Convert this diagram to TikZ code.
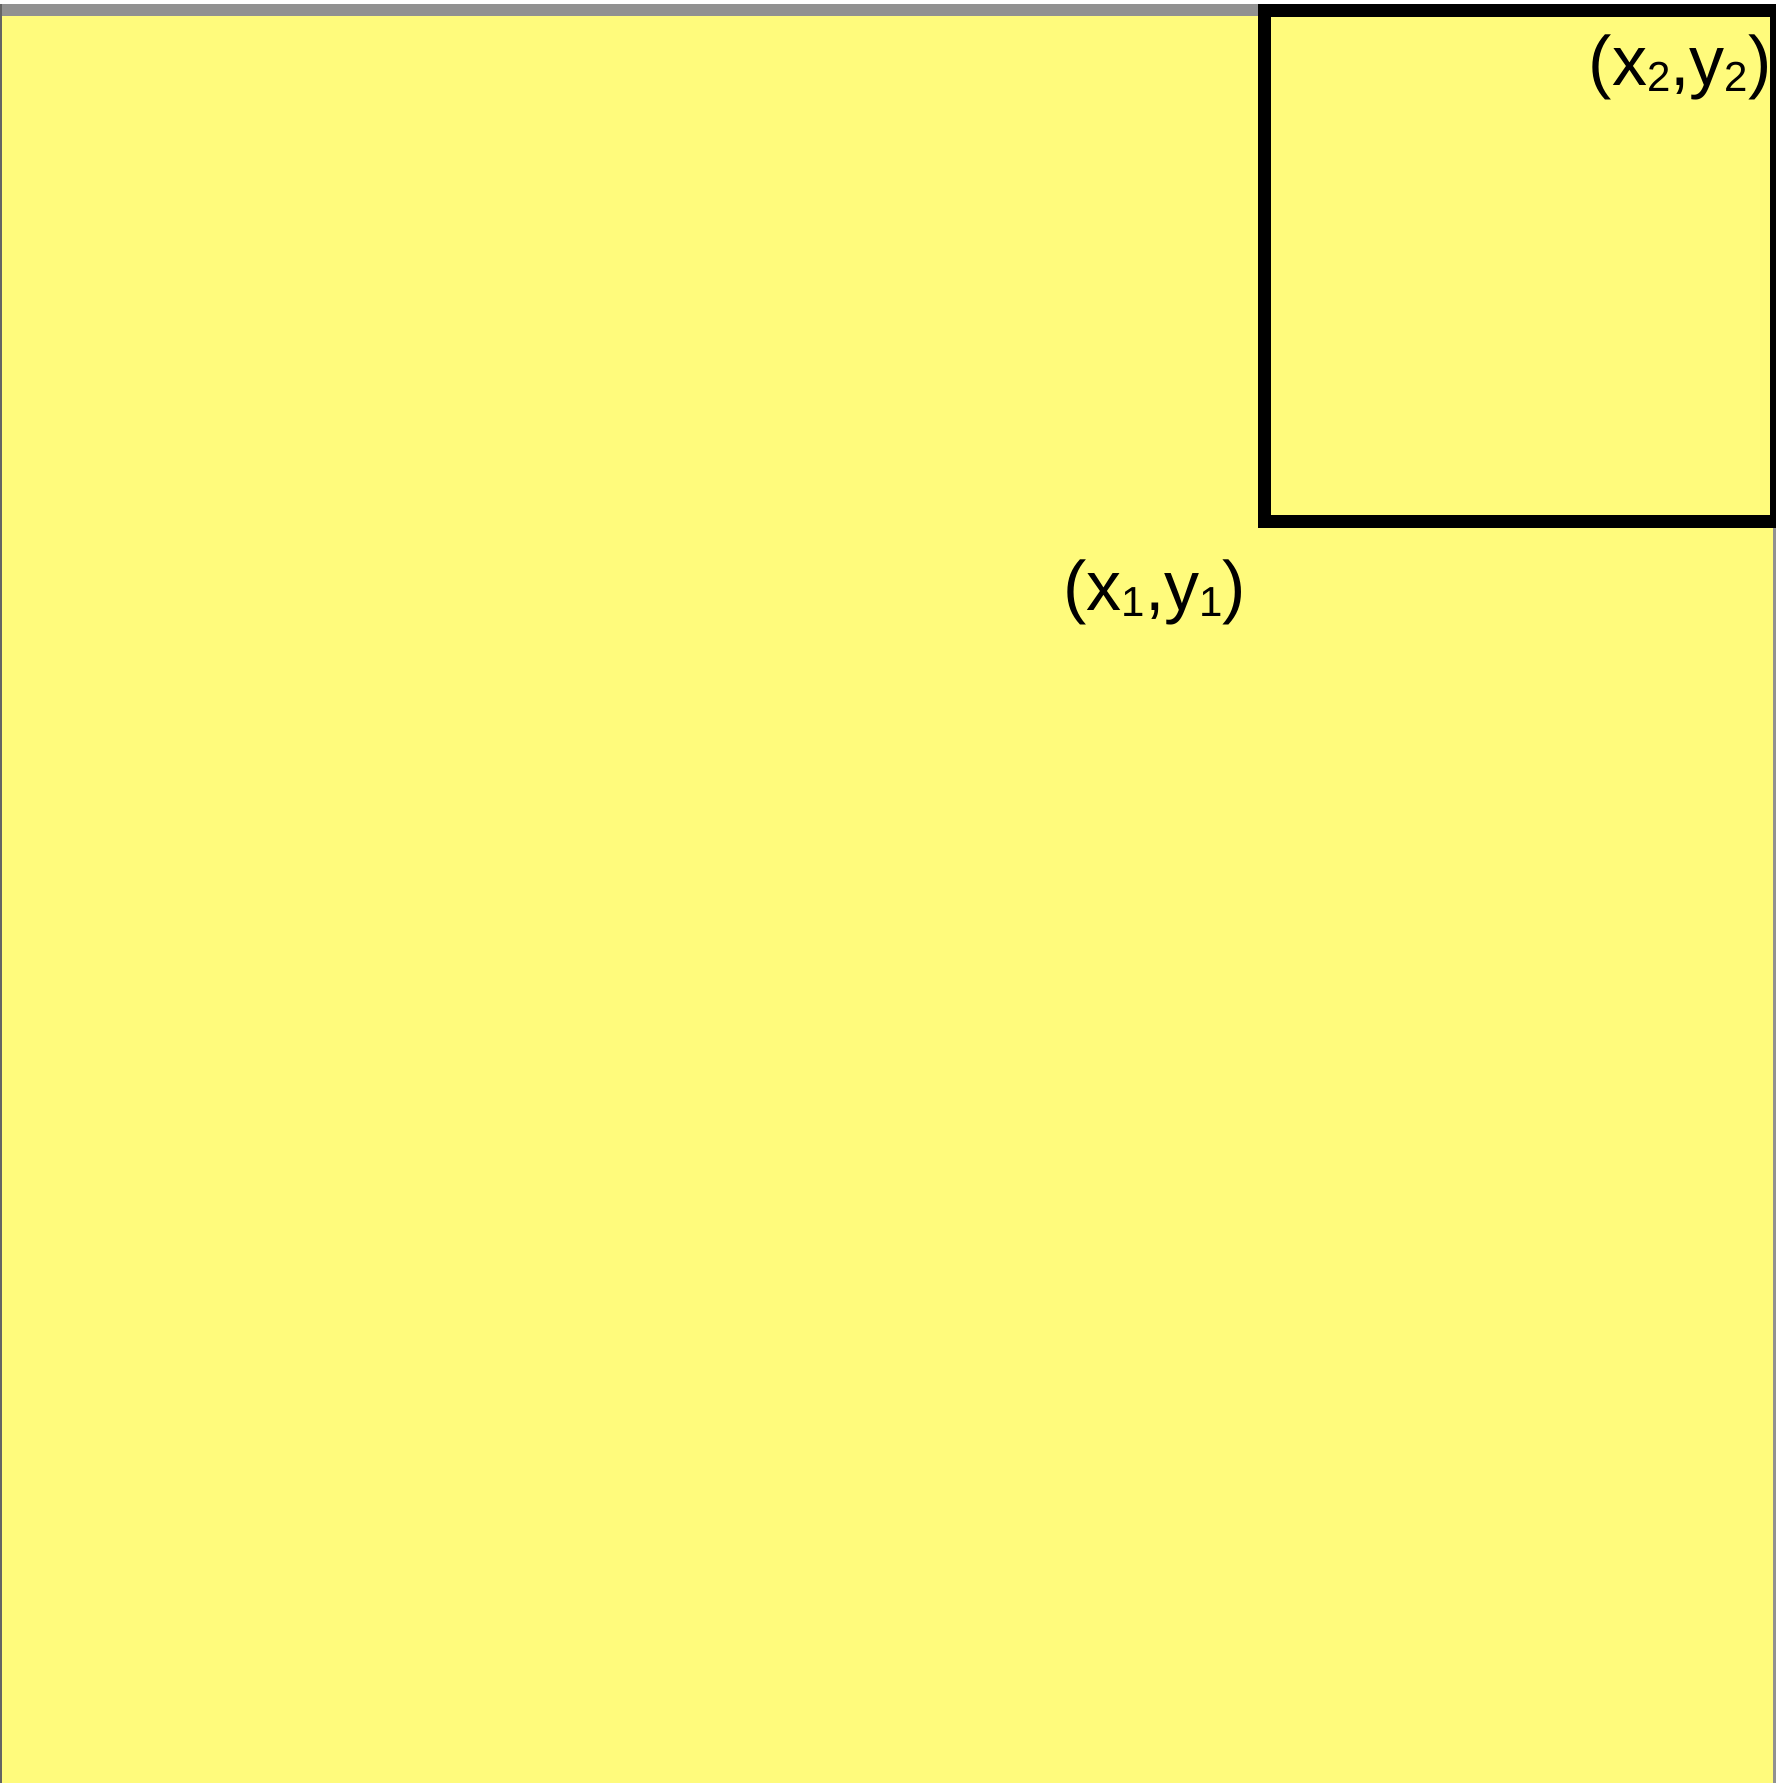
\documentclass[tikz,border=0pt]{standalone}
\usepackage{fontspec}
\setmainfont{Liberation Sans}
\definecolor{bgyellow}{RGB}{255,251,124}
\definecolor{bargray}{RGB}{145,145,145}
\definecolor{edgegray}{RGB}{100,100,100}
\setlength{\unitlength}{0.5pt}
\newcommand{\lowsub}[1]{\raisebox{-6\unitlength}{\fontsize{21pt}{24pt}\selectfont #1}}
\tikzset{
  coordlabel/.style={inner sep=0pt, font=\fontsize{35pt}{40pt}\selectfont, text=black},
  framebox/.style={draw=black, line width=6.5pt, line join=miter}
}
\begin{document}
\begin{tikzpicture}[x=0.5pt,y=-0.5pt]
  \useasboundingbox (0,0) rectangle (1776,1783);
  \fill[white] (0,0) rectangle (1776,1783);
  % gray top bar
  \fill[bargray] (0,4) rectangle (1776,16);
  % yellow area
  \fill[bgyellow] (0,16) rectangle (1773,1783);
  % left edge line
  \fill[edgegray] (0,4) rectangle (1.6,1783);
  % right edge line
  \fill[bargray] (1773,16) rectangle (1776,1783);
  % box
  \begin{scope}
    \clip (0,0) rectangle (1776,1783);
    \draw[framebox] (1264.5,10) rectangle (1776.5,521.5);
  \end{scope}
  % labels
  \node[coordlabel, anchor=base east] (p2) at (1772,85) {(x\lowsub{2},y\lowsub{2})};
  \node[coordlabel, anchor=base west] (p1) at (1063,610) {(x\lowsub{1},y\lowsub{1})};
\end{tikzpicture}
\end{document}
